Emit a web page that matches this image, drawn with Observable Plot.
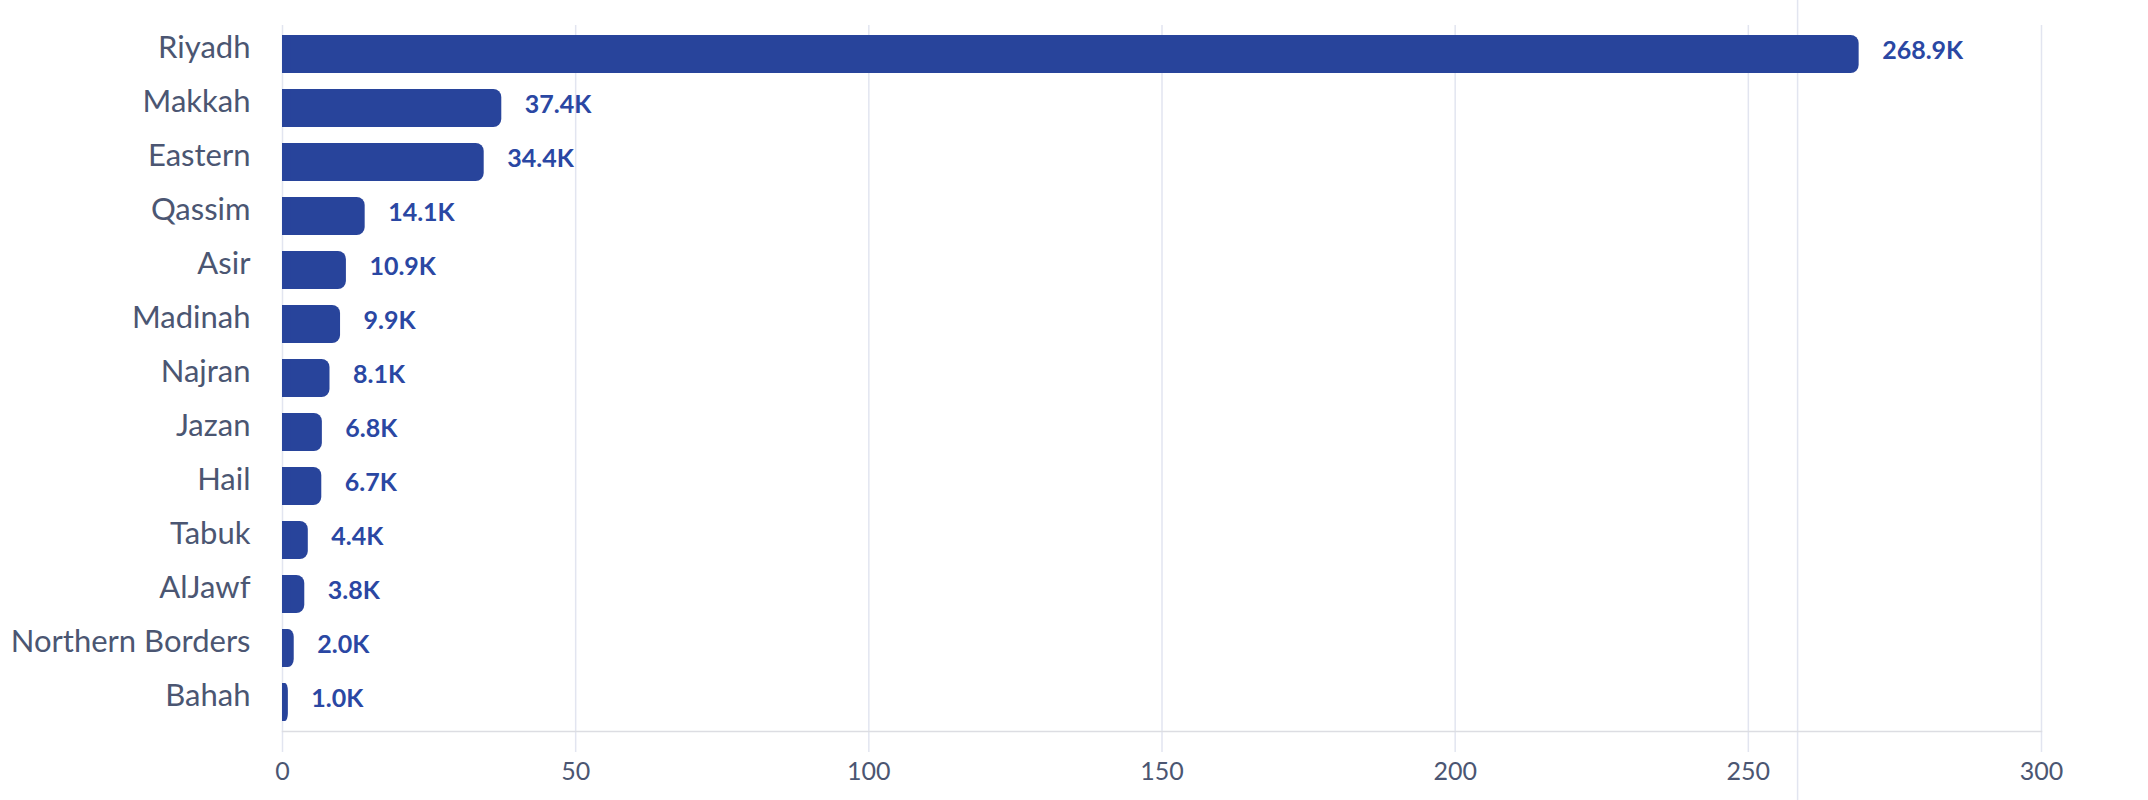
<!DOCTYPE html>
<html>
<head>
<meta charset="utf-8">
<script src="https://cdn.jsdelivr.net/npm/d3@7"></script>
<script src="https://cdn.jsdelivr.net/npm/@observablehq/plot@0.6"></script>
<style>
  html, body { margin: 0; padding: 0; background: #ffffff; }
  #chart { width: 2148px; height: 800px; }
</style>
</head>
<body>
<div id="chart"></div>
<script>
const regions = ["Riyadh", "Makkah", "Eastern", "Qassim", "Asir", "Madinah", "Najran", "Jazan", "Hail", "Tabuk", "AlJawf", "Northern Borders", "Bahah"];
const valuesK = [268.9, 37.4, 34.4, 14.1, 10.9, 9.9, 8.1, 6.8, 6.7, 4.4, 3.8, 2.0, 1.0];
const xTicks = [0, 50, 100, 150, 200, 250, 300];
const hoverLine = [258.4];

const data = regions.map((r, i) => ({region: r, value: valuesK[i]}));

const gridColor = "#e2e5f0";
const barColor = "#28449b";
const labelColor = "#4b5672";

const chart = Plot.plot({
  width: 2148,
  height: 800,
  marginTop: 25,
  marginBottom: 69,
  marginLeft: 282,
  marginRight: 107,
  style: {fontFamily: "Lato, 'Open Sans', sans-serif", background: "#ffffff", overflow: "visible"},
  x: {domain: [0, 300], ticks: xTicks, label: null},
  y: {domain: regions, paddingInner: 0.3, paddingOuter: 0.157, label: null},
  marks: [
    Plot.gridX(xTicks, {stroke: gridColor, strokeOpacity: 1, strokeWidth: 1.5}),
    Plot.ruleX(hoverLine, {x: d => d, stroke: gridColor, strokeOpacity: 1, strokeWidth: 1.5, insetTop: -25, insetBottom: -69}),
    Plot.axisX({ticks: xTicks, tickSize: 21, tickPadding: 10, stroke: gridColor, strokeOpacity: 1, strokeWidth: 1.5, fill: labelColor, fontSize: 25, label: null}),
    Plot.axisY({tickSize: 0, tickPadding: 32, fill: labelColor, fontSize: 31, dy: -6, label: null}),
    Plot.frame({anchor: "bottom", stroke: "#dcdde2", strokeWidth: 1.5}),
    Plot.barX(data, {x: "value", y: "region", fill: barColor, rx: 8}),
    Plot.barX(data, {x1: 0, x2: d => Math.min(d.value / 2, 1.5), y: "region", fill: barColor}),
    Plot.text(data, {x: "value", y: "region", text: d => d.value.toFixed(1) + "K", dx: 23, dy: -4, textAnchor: "start", fill: "#2a47a3", fontSize: 25, fontWeight: 700})
  ]
});

document.getElementById("chart").appendChild(chart);
</script>
</body>
</html>
